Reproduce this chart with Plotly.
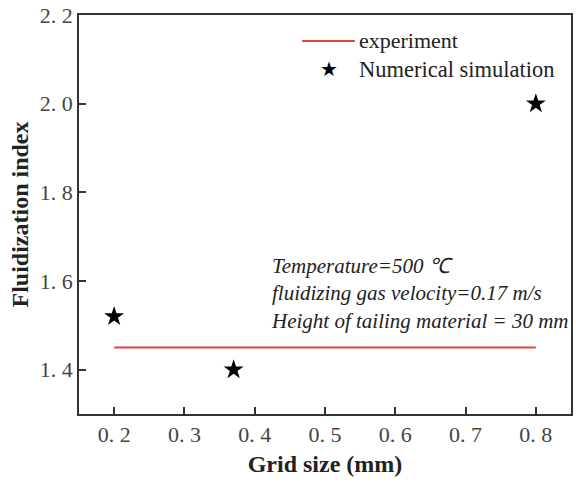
import plotly.graph_objects as go

# Data
exp_x = [0.2, 0.8]
exp_y = [1.45, 1.45]
sim_x = [0.2, 0.37, 0.8]
sim_y = [1.52, 1.40, 2.00]

x_ticks = [0.2, 0.3, 0.4, 0.5, 0.6, 0.7, 0.8]
x_ticklabels = ["0. 2", "0. 3", "0. 4", "0. 5", "0. 6", "0. 7", "0. 8"]
y_ticks = [1.4, 1.6, 1.8, 2.0, 2.2]
y_ticklabels = ["1. 4", "1. 6", "1. 8", "2. 0", "2. 2"]

serif = "Liberation Serif"
RED = "#e8413c"

# plot area in pixels (for paper-coordinate placement of legend/notes)
L, R, T, B = 79, 3, 14, 71
W, H = 576, 485
PW, PH = W - L - R, H - T - B
def px(x):
    return (x - L) / PW
def py(y):
    return (H - B - y) / PH

fig = go.Figure()
fig.add_trace(go.Scatter(x=exp_x, y=exp_y, mode="lines", name="experiment",
                         line=dict(color=RED, width=2), showlegend=False))
fig.add_trace(go.Scatter(x=sim_x, y=sim_y, mode="markers", name="Numerical simulation",
                         marker=dict(symbol="star", size=15, color="black"), showlegend=False))

# legend (drawn manually so the line sample has the original length)
fig.add_shape(type="line", xref="paper", yref="paper", x0=px(303), x1=px(356),
              y0=py(40), y1=py(40), line=dict(color=RED, width=2))
fig.add_annotation(xref="paper", yref="paper", x=px(330), y=py(68), text="★",
                   showarrow=False, xanchor="center", yanchor="middle",
                   font=dict(family="DejaVu Sans", size=20, color="black"))
fig.add_annotation(xref="paper", yref="paper", x=px(358), y=py(40), text="experiment",
                   showarrow=False, xanchor="left", yanchor="middle",
                   font=dict(family=serif, size=22, color="#222"))
fig.add_annotation(xref="paper", yref="paper", x=px(358), y=py(69), text="Numerical simulation",
                   showarrow=False, xanchor="left", yanchor="middle",
                   font=dict(family=serif, size=22.5, color="#222"))

fig.add_annotation(xref="paper", yref="paper", x=px(270), y=py(252),
                   xanchor="left", yanchor="top", align="left", showarrow=False,
                   text="<i>Temperature=500 ℃<br>fluidizing gas velocity=0.17 m/s<br>Height of tailing material = 30 mm</i>",
                   font=dict(family=serif, size=21, color="#222"))

axis_common = dict(showline=True, linecolor="#333", linewidth=1.5, mirror=True,
                   ticks="inside", ticklen=7, tickwidth=1.5, tickcolor="#333",
                   showgrid=False, zeroline=False,
                   tickfont=dict(family=serif, size=22, color="#444"))

fig.update_layout(
    width=W, height=H,
    margin=dict(l=L, r=R, t=T, b=B),
    paper_bgcolor="white", plot_bgcolor="white",
    xaxis=dict(range=[0.15, 0.85], tickvals=x_ticks, ticktext=x_ticklabels,
               ticklabelstandoff=0,
               title=dict(text="<b>Grid size (mm)</b>", font=dict(family=serif, size=24, color="#222"),
                          standoff=9),
               **axis_common),
    yaxis=dict(range=[1.3, 2.2], tickvals=y_ticks, ticktext=y_ticklabels,
               ticklabelstandoff=0,
               title=dict(text="<b>Fluidization index</b>", font=dict(family=serif, size=24, color="#222"),
                          standoff=4),
               **axis_common),
    showlegend=False,
)

fig.write_html("out.html")
